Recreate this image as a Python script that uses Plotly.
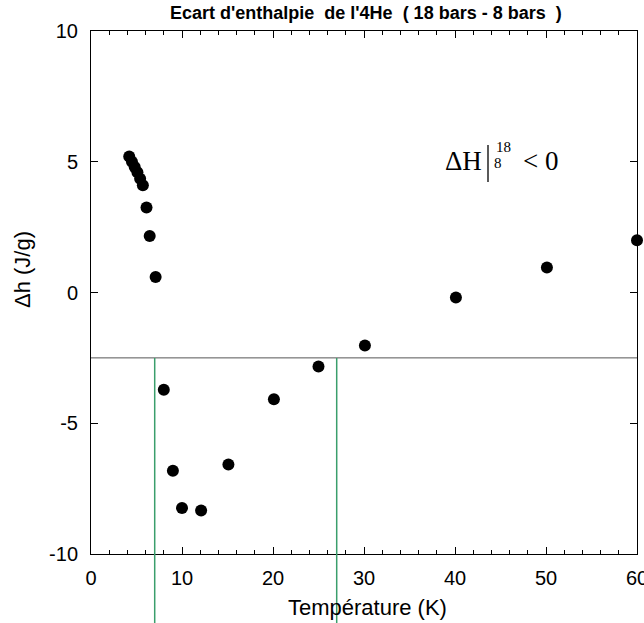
import plotly.graph_objects as go

temperature = [4.2, 4.5, 4.8, 5.1, 5.4, 5.7, 6.1, 6.45, 7.1, 8.0, 9.0, 10.0, 12.1, 15.1, 20.1, 25.0, 30.1, 40.1, 50.1, 60.0]
delta_h = [5.2, 5.0, 4.8, 4.6, 4.35, 4.1, 3.25, 2.16, 0.59, -3.72, -6.82, -8.24, -8.34, -6.58, -4.08, -2.83, -2.03, -0.19, 0.96, 2.0]
x_ticks = [0, 10, 20, 30, 40, 50, 60]
x_tick_labels = ["0", "10", "20", "30", "40", "50", "60"]
y_ticks = [-10, -5, 0, 5, 10]
y_tick_labels = ["-10", "-5", "0", "5", "10"]
ref_level = -2.5
green_T = [7.0, 27.0]

# body margin removed by post_script, so figure pixels == screen pixels
W, H = 644, 623
L, R, T, B = 91, 7, 31, 69
pw, ph = W - L - R, H - T - B
def px(sx): return (sx - L) / pw
def py(sy): return 1 - (sy - T) / ph

fig = go.Figure()
fig.add_trace(go.Scatter(x=temperature, y=delta_h, mode="markers",
                         marker=dict(color="black", size=12), cliponaxis=False,
                         showlegend=False))
fig.add_trace(go.Scatter(x=[0, 60], y=[ref_level, ref_level], mode="lines",
                         line=dict(color="#555555", width=1), showlegend=False,
                         hoverinfo="skip"))

yr = (-10, 10)
for t in green_T:
    fig.add_shape(type="line", xref="x", yref="paper", x0=t, x1=t,
                  y0=(ref_level - yr[0]) / (yr[1] - yr[0]), y1=-0.2,
                  line=dict(color="#3a9e6c", width=1.5))

axis_common = dict(showline=True, linecolor="black", linewidth=1, mirror="ticks",
                   ticks="inside", ticklen=7, tickcolor="black", showgrid=False,
                   zeroline=False, automargin=False, ticklabeloverflow="allow",
                   tickfont=dict(family="Liberation Sans", size=20, color="black"))

fig.update_xaxes(range=[0, 60], tickvals=x_ticks, ticktext=x_tick_labels, ticklabelstandoff=6,
                 **axis_common,
                 minor=dict(dtick=2, ticks="inside", ticklen=4, tickcolor="black"))
fig.update_yaxes(range=[-10, 10], tickvals=y_ticks, ticktext=y_tick_labels, ticklabelstandoff=8,
                 **axis_common)

def note(text, sx, sy, family, size, angle=0):
    fig.add_annotation(text=text, x=px(sx), y=py(sy), xref="paper", yref="paper",
                       xanchor="center", yanchor="middle", showarrow=False, textangle=angle,
                       font=dict(family=family, size=size, color="black"))

note("Température (K)", 367, 607, "Liberation Sans", 22)
note("Δh (J/g)", 22, 270, "Liberation Sans", 22, angle=-90)
note("<b>Ecart d'enthalpie  de l'4He  ( 18 bars - 8 bars  )</b>", 366, 13, "Liberation Sans", 18)
note("ΔH", 463, 161, "Liberation Serif", 27)
note("18", 503, 147, "Liberation Serif", 15)
note("8", 498, 163, "Liberation Serif", 15)
note("&lt; 0", 540, 161, "Liberation Serif", 27)
fig.add_shape(type="line", xref="paper", yref="paper", x0=px(488), x1=px(488), y0=py(145), y1=py(182),
              line=dict(color="black", width=1.3))

fig.update_layout(width=W, height=H, margin=dict(l=L, r=R, t=T, b=B, autoexpand=False),
                  plot_bgcolor="white", paper_bgcolor="white")

fig.write_html("out.html", config={"displayModeBar": False},
               post_script="document.body.style.margin='0';document.body.style.overflow='hidden';")
